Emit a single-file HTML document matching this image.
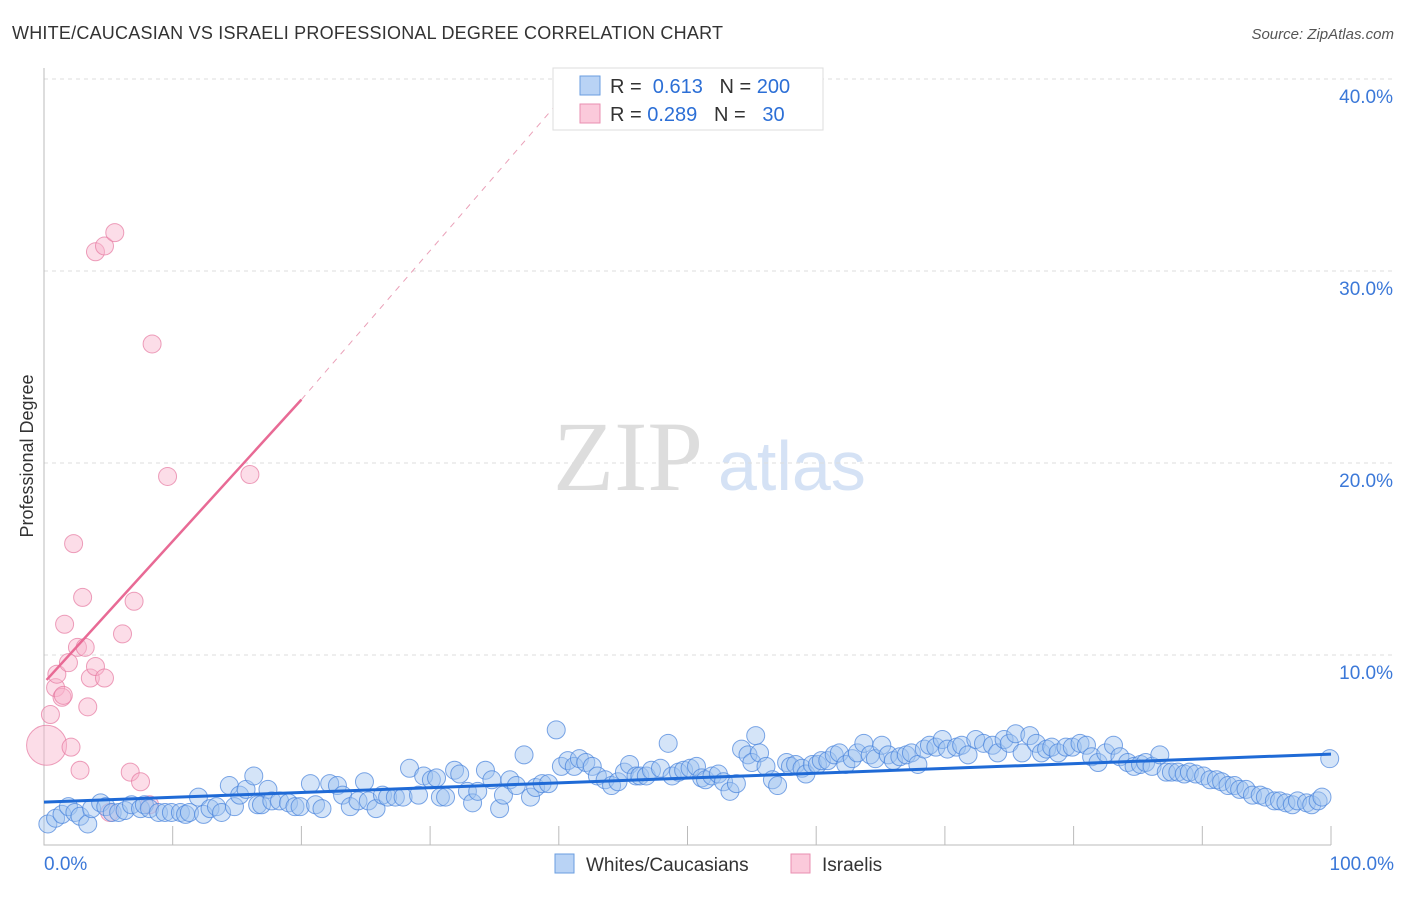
<!DOCTYPE html>
<html><head><meta charset="utf-8"><style>
body{margin:0;background:#fff;font-family:"Liberation Sans",sans-serif}
svg text{font-family:"Liberation Sans",sans-serif}
</style></head><body>
<svg id="chart" width="1406" height="892">
<text x="12" y="39" font-size="18" fill="#333" textLength="711">WHITE/CAUCASIAN VS ISRAELI PROFESSIONAL DEGREE CORRELATION CHART</text>
<text x="1394" y="39" font-size="15" fill="#555" font-style="italic" text-anchor="end">Source: ZipAtlas.com</text>
<text transform="translate(33,456) rotate(-90)" font-size="18" fill="#333" text-anchor="middle">Professional Degree</text>
<text x="553" y="490" font-size="100" fill="#ddd" style="font-family:'Liberation Serif',serif">ZIP</text>
<text x="718" y="490" font-size="70" fill="#d5e2f5">atlas</text>
<g id="grid"></g><g id="axes"></g><g id="pinkpts"></g><g id="bluepts"></g><g id="lines"></g>
<g>
<rect x="553" y="68" width="270" height="62" fill="#fff" stroke="#ddd"/>
<rect x="580" y="76" width="20" height="19" fill="#b9d3f5" stroke="#6a9ee0"/>
<text x="610" y="93" font-size="20" fill="#333">R = <tspan fill="#2c6fd6">&#160;0.613</tspan>&#160;&#160;&#160;N = <tspan fill="#2c6fd6">200</tspan></text>
<rect x="580" y="104" width="20" height="19" fill="#fbcadb" stroke="#ea8fb0"/>
<text x="610" y="121" font-size="20" fill="#333">R = <tspan fill="#2c6fd6">0.289</tspan>&#160;&#160;&#160;N = <tspan fill="#2c6fd6">&#160;&#160;30</tspan></text>
</g>
<g>
<rect x="555" y="854" width="19" height="19" fill="#b9d3f5" stroke="#6a9ee0"/>
<text x="586" y="871" font-size="19" fill="#333">Whites/Caucasians</text>
<rect x="791" y="854" width="19" height="19" fill="#fbcadb" stroke="#ea8fb0"/>
<text x="822" y="871" font-size="19" fill="#333">Israelis</text>
</g>
</svg>
<script>
const blueX=[0.3,0.9,1.4,1.9,2.4,2.8,3.4,3.7,4.4,4.8,5.3,5.8,6.3,6.8,7.5,7.8,8.2,8.9,9.4,9.9,10.6,11.0,11.3,12.0,12.4,12.9,13.4,13.8,14.4,14.8,15.2,15.7,16.3,16.6,16.9,17.4,17.7,18.3,19.0,19.5,19.9,20.7,21.1,21.6,22.2,22.8,23.2,23.8,24.4,24.9,25.2,25.8,26.3,26.7,27.3,27.9,28.4,29.1,29.5,30.1,30.5,30.8,31.2,31.9,32.3,32.9,33.3,33.7,34.3,34.8,35.4,35.7,36.2,36.7,37.3,37.8,38.2,38.7,39.2,39.8,40.2,40.7,41.2,41.6,42.1,42.6,43.0,43.6,44.1,44.6,45.1,45.5,46.0,46.3,46.8,47.2,47.9,48.5,48.8,49.3,49.7,50.2,50.7,51.1,51.4,51.9,52.4,52.8,53.3,53.8,54.2,54.7,55.0,55.3,55.6,56.1,56.6,57.0,57.7,58.0,58.4,58.9,59.2,59.7,60.1,60.4,60.9,61.4,61.8,62.3,62.8,63.2,63.7,64.2,64.6,65.1,65.6,66.0,66.5,67.0,67.4,67.9,68.4,68.8,69.3,69.8,70.2,70.9,71.3,71.8,72.4,73.0,73.7,74.1,74.6,75.0,75.5,76.0,76.6,77.1,77.5,77.9,78.3,78.8,79.4,79.9,80.5,81.0,81.4,81.9,82.5,83.1,83.6,84.2,84.7,85.2,85.6,86.1,86.7,87.2,87.6,88.1,88.6,89.0,89.5,90.1,90.6,91.1,91.5,92.0,92.5,92.9,93.4,93.9,94.5,94.9,95.6,96.0,96.5,97.0,97.4,98.1,98.5,99.0,99.3,99.9];
const blueY=[1.2,1.5,1.7,2.1,1.8,1.6,1.2,2.0,2.3,2.1,1.8,1.8,1.9,2.2,2.0,2.2,2.0,1.8,1.8,1.8,1.8,1.7,1.8,2.6,1.7,2.0,2.1,1.8,3.2,2.1,2.7,3.0,3.7,2.2,2.2,3.0,2.4,2.4,2.3,2.1,2.1,3.3,2.2,2.0,3.3,3.2,2.7,2.1,2.4,3.4,2.4,2.0,2.7,2.6,2.6,2.6,4.1,2.7,3.7,3.5,3.6,2.6,2.6,4.0,3.8,2.9,2.3,2.9,4.0,3.5,2.0,2.7,3.5,3.2,4.8,2.6,3.1,3.3,3.3,6.1,4.2,4.5,4.2,4.6,4.4,4.2,3.7,3.5,3.2,3.4,3.9,4.3,3.7,3.7,3.7,4.0,4.1,5.4,3.7,3.9,4.0,4.1,4.2,3.6,3.5,3.7,3.8,3.4,2.9,3.3,5.1,4.8,4.4,5.8,4.9,4.2,3.5,3.2,4.4,4.2,4.3,4.1,3.8,4.3,4.3,4.5,4.5,4.8,4.9,4.3,4.6,4.9,5.4,4.8,4.6,5.3,4.8,4.5,4.7,4.8,4.9,4.3,5.1,5.3,5.2,5.6,5.1,5.2,5.3,4.8,5.6,5.4,5.3,4.9,5.6,5.4,5.9,4.9,5.8,5.4,4.9,5.1,5.2,4.9,5.2,5.2,5.4,5.3,4.7,4.4,4.9,5.3,4.7,4.4,4.2,4.3,4.4,4.2,4.8,3.9,3.9,3.9,3.8,3.9,3.8,3.7,3.5,3.5,3.4,3.2,3.2,3.0,3.0,2.7,2.7,2.6,2.4,2.4,2.3,2.2,2.4,2.3,2.2,2.4,2.6,4.6];
const pinkX=[0.2,0.5,0.9,1.0,1.4,1.5,1.9,2.1,1.6,2.3,2.6,2.8,3.0,3.2,3.4,3.6,4.0,4.7,4.0,4.7,5.5,6.1,6.7,7.0,7.5,8.4,9.6,16.0,5.1,8.2];
const pinkY=[5.3,6.9,8.3,9.0,7.8,7.9,9.6,5.2,11.6,15.8,10.4,4.0,13.0,10.4,7.3,8.8,9.4,8.8,31.0,31.3,32.0,11.1,3.9,12.8,3.4,26.2,19.3,19.4,1.8,2.2];
const pinkR=[20,9,9,9,9,9,9,9,9,9,9,9,9,9,9,9,9,9,9,9,9,9,9,9,9,9,9,9,9,9];
const yTicks=[10,20,30,40];
const xTickVals=[0,10,20,30,40,50,60,70,80,90,100];
const blueTrend=[2.34,4.84];
const pinkTrend=[8.7,23.3,38.9];
const pinkTrendX=[0.2,20,40.1];

const X=v=>44+v*12.87, Y=v=>847-v*19.2;
const NS='http://www.w3.org/2000/svg';
function mk(parent,tag,attrs){const e=document.createElementNS(NS,tag);for(const k in attrs)e.setAttribute(k,attrs[k]);document.getElementById(parent).appendChild(e);return e;}
yTicks.forEach(t=>{
 const l=mk('grid','line',{x1:44,x2:1395,y1:Y(t),y2:Y(t),stroke:'#ddd','stroke-dasharray':'4,4'});
 
 
 const tx=mk('grid','text',{x:1393,y:Y(t)+24,'font-size':19,fill:'#3b78d8','text-anchor':'end'});
 tx.textContent=t.toFixed(1)+'%';
 
 
});
const ax=mk('axes','path',{d:`M44 68 V845 H${X(100)}`,stroke:'#bbb',fill:'none'});


xTickVals.forEach(t=>{if(t===0)return;
 const l=mk('axes','line',{x1:X(t),x2:X(t),y1:826,y2:845,stroke:'#bbb'});
 
 
});
[[0,'0.0%','start',44],[100,'100.0%','end',1394]].forEach(a=>{
 const tx=mk('axes','text',{x:a[3],y:870,'font-size':19,fill:'#3b78d8','text-anchor':a[2]});
 tx.textContent=a[1];
 
 
});
pinkX.forEach((v,i)=>{
 const c=mk('pinkpts','circle',{cx:X(v),cy:Y(pinkY[i]),r:pinkR[i],fill:'rgba(248,180,205,0.45)',stroke:'rgba(230,120,160,0.7)'});
 
 
});
blueX.forEach((v,i)=>{
 const c=mk('bluepts','circle',{cx:X(v),cy:Y(blueY[i]),r:9,fill:'rgba(160,195,240,0.45)',stroke:'rgba(70,130,220,0.7)'});
 
 
});
const bl=mk('lines','line',{x1:X(0),y1:Y(blueTrend[0]),x2:X(100),y2:Y(blueTrend[1]),stroke:'#1f6ad6','stroke-width':3});


const pl=mk('lines','line',{x1:X(pinkTrendX[0]),y1:Y(pinkTrend[0]),x2:X(pinkTrendX[1]),y2:Y(pinkTrend[1]),stroke:'#e86a95','stroke-width':2.5});


const pd=mk('lines','line',{x1:X(pinkTrendX[1]),y1:Y(pinkTrend[1]),x2:X(pinkTrendX[2]),y2:Y(pinkTrend[2]),stroke:'#eaa0b8','stroke-width':1,'stroke-dasharray':'6,6'});


</script>
</body></html>
